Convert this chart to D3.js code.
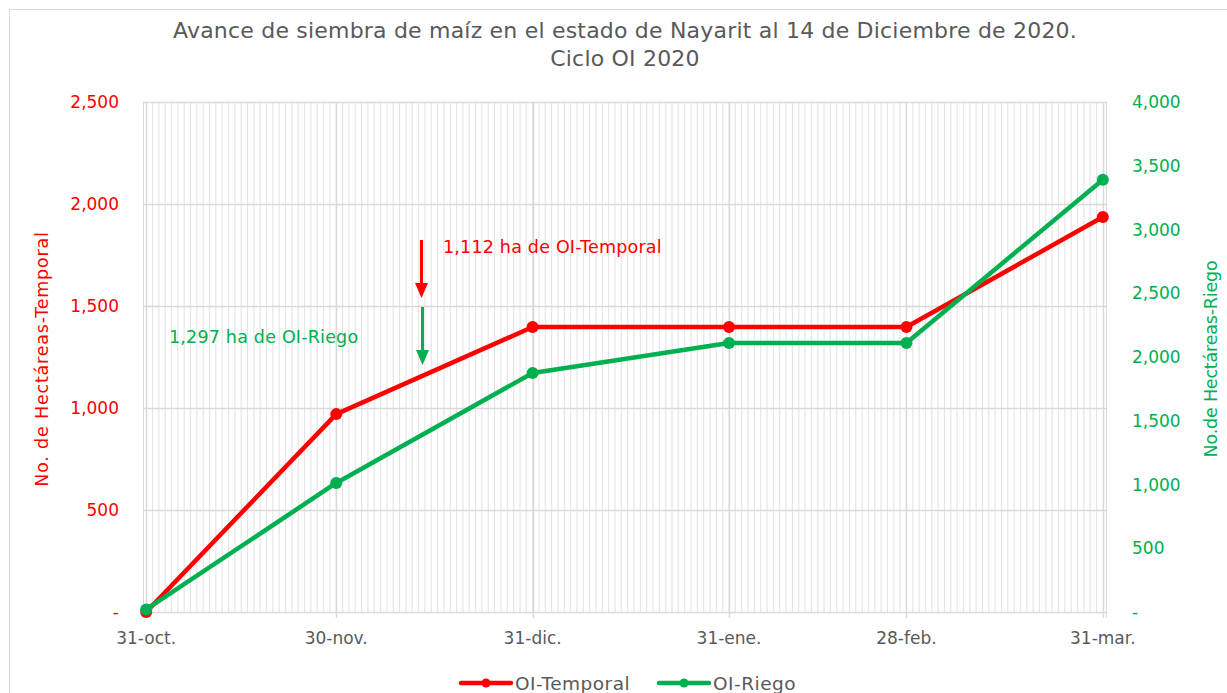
<!DOCTYPE html>
<html>
<head>
<meta charset="utf-8">
<script src="https://cdn.jsdelivr.net/npm/d3@7"></script>
<style>
    body {margin: 0; background: #fff;}
    text {font-family: "DejaVu Sans", sans-serif;}
</style>
</head>
<body>
<div id="chart"></div>
<script>
    // fechas de corte y valores acumulados (ha)
    var dates = ["2020-10-31", "2020-11-30", "2020-12-31", "2021-01-31", "2021-02-28", "2021-03-31"];
    var tickLabels = ["31-oct.", "30-nov.", "31-dic.", "31-ene.", "28-feb.", "31-mar."];
    var temporal = [0, 970, 1397, 1397, 1397, 1936];
    var riego = [20, 1012, 1875, 2110, 2110, 3390];
    var leftTicks = [0, 500, 1000, 1500, 2000, 2500];
    var rightTicks = [0, 500, 1000, 1500, 2000, 2500, 3000, 3500, 4000];

    var W = 1227, H = 693;
    var red = "#FF0000", green = "#00B050", grey = "#595959";
    var parse = d3.timeParse("%Y-%m-%d");
    var dd = dates.map(parse);

    var svg = d3.select("#chart").append("svg")
        .attr("width", W).attr("height", H);

    svg.append("rect").attr("x", 9.5).attr("y", 9.5)
        .attr("width", W + 10).attr("height", H + 10)
        .attr("fill", "none").attr("stroke", "#d9d9d9");

    var x = d3.scaleTime()
        .domain([d3.timeHour.offset(dd[0], -12), d3.timeHour.offset(dd[5], 12)])
        .range([143, 1106]);
    var yL = d3.scaleLinear().domain([0, 2500]).range([612, 102]);
    var yR = d3.scaleLinear().domain([0, 4000]).range([612, 102]);

    var fmt = function (v) { return v === 0 ? "-" : d3.format(",")(v); };

    // rejilla diaria
    var days = d3.timeDay.range(d3.timeDay.offset(dd[0], 1), dd[5]);
    svg.append("g").selectAll("line").data(days).enter().append("line")
        .attr("x1", function (d) { return x(d); }).attr("x2", function (d) { return x(d); })
        .attr("y1", 102).attr("y2", 612)
        .attr("stroke", "#e6e6e6").attr("stroke-width", 1.2);

    // rejilla horizontal
    svg.append("g").selectAll("line").data(leftTicks).enter().append("line")
        .attr("x1", 143).attr("x2", 1106)
        .attr("y1", function (d) { return Math.round(yL(d)) + 0.5; })
        .attr("y2", function (d) { return Math.round(yL(d)) + 0.5; })
        .attr("stroke", "#d9d9d9").attr("stroke-width", 1.5);

    // rejilla mensual
    svg.append("g").selectAll("line").data(dd).enter().append("line")
        .attr("x1", function (d) { return Math.round(x(d)) + 0.5; })
        .attr("x2", function (d) { return Math.round(x(d)) + 0.5; })
        .attr("y1", 102).attr("y2", 618)
        .attr("stroke", "#d9d9d9").attr("stroke-width", 1.5);

    svg.append("line").attr("x1", 143.5).attr("x2", 143.5).attr("y1", 102).attr("y2", 612)
        .attr("stroke", "#d9d9d9");
    svg.append("line").attr("x1", 1106.5).attr("x2", 1106.5).attr("y1", 102).attr("y2", 618)
        .attr("stroke", "#d9d9d9");

    // ejes
    svg.append("g").selectAll("text").data(leftTicks).enter().append("text")
        .attr("x", 119).attr("y", function (d) { return yL(d) + 6; })
        .attr("text-anchor", "end").attr("fill", red).attr("font-size", 17)
        .text(fmt);
    svg.append("g").selectAll("text").data(rightTicks).enter().append("text")
        .attr("x", 1132).attr("y", function (d) { return yR(d) + 6; })
        .attr("fill", green).attr("font-size", 17)
        .text(fmt);
    svg.append("g").selectAll("text").data(dd).enter().append("text")
        .attr("x", function (d) { return x(d); }).attr("y", 644)
        .attr("text-anchor", "middle").attr("fill", grey).attr("font-size", 17)
        .text(function (d, i) { return tickLabels[i]; });

    svg.append("text").attr("transform", "translate(48,359) rotate(-90)")
        .attr("text-anchor", "middle").attr("fill", red).attr("font-size", 17.5)
        .attr("letter-spacing", 0.8)
        .text("No. de Hectáreas-Temporal");
    svg.append("text").attr("transform", "translate(1217,359) rotate(-90)")
        .attr("text-anchor", "middle").attr("fill", green).attr("font-size", 17.5)
        .attr("letter-spacing", -0.2)
        .text("No.de Hectáreas-Riego");

    // titulo
    svg.append("text").attr("x", 625).attr("y", 38).attr("text-anchor", "middle")
        .attr("fill", grey).attr("font-size", 22).attr("letter-spacing", 0.2)
        .text("Avance de siembra de maíz en el estado de Nayarit al 14 de Diciembre de 2020.");
    svg.append("text").attr("x", 625).attr("y", 66).attr("text-anchor", "middle")
        .attr("fill", grey).attr("font-size", 22).attr("letter-spacing", 0.2)
        .text("Ciclo OI 2020");

    // series
    function drawSeries(vals, y, color) {
        var pts = vals.map(function (v, i) { return [x(dd[i]), y(v)]; });
        svg.append("path").datum(pts)
            .attr("d", d3.line())
            .attr("fill", "none").attr("stroke", color)
            .attr("stroke-width", 4.5).attr("stroke-linejoin", "round");
        svg.append("g").selectAll("circle").data(pts).enter().append("circle")
            .attr("cx", function (d) { return d[0]; }).attr("cy", function (d) { return d[1]; })
            .attr("r", 6).attr("fill", color);
    }
    drawSeries(temporal, yL, red);
    drawSeries(riego, yR, green);

    // flechas al 14 de diciembre
    function arrow(ax, y0, y1, color) {
        svg.append("line").attr("x1", ax).attr("x2", ax).attr("y1", y0).attr("y2", y1 - 12)
            .attr("stroke", color).attr("stroke-width", 3);
        svg.append("path")
            .attr("d", "M" + (ax - 6.5) + "," + (y1 - 15) + "L" + (ax + 6.5) + "," + (y1 - 15) + "L" + ax + "," + y1 + "Z")
            .attr("fill", color);
    }
    var ax = Math.round(x(parse("2020-12-14"))) - 3.5;
    arrow(ax, 240, 298, red);
    arrow(ax + 1, 307, 365, green);

    svg.append("text").attr("x", 443).attr("y", 253).attr("fill", red).attr("font-size", 17.5)
        .attr("letter-spacing", 0.2)
        .text("1,112 ha de OI-Temporal");
    svg.append("text").attr("x", 169).attr("y", 343).attr("fill", green).attr("font-size", 17.5)
        .attr("letter-spacing", 0.2)
        .text("1,297 ha de OI-Riego");

    // leyenda
    var legend = [["OI-Temporal", red, 461], ["OI-Riego", green, 659]];
    legend.forEach(function (l) {
        var g = svg.append("g");
        g.append("line").attr("x1", l[2]).attr("x2", l[2] + 50).attr("y1", 683).attr("y2", 683)
            .attr("stroke", l[1]).attr("stroke-width", 4.5).attr("stroke-linecap", "round");
        g.append("circle").attr("cx", l[2] + 25).attr("cy", 683).attr("r", 4.5).attr("fill", l[1]);
        g.append("text").attr("x", l[2] + 54).attr("y", 690).attr("fill", grey).attr("font-size", 18.5)
            .attr("letter-spacing", 0.5)
            .text(l[0]);
    });
</script>
</body>
</html>
